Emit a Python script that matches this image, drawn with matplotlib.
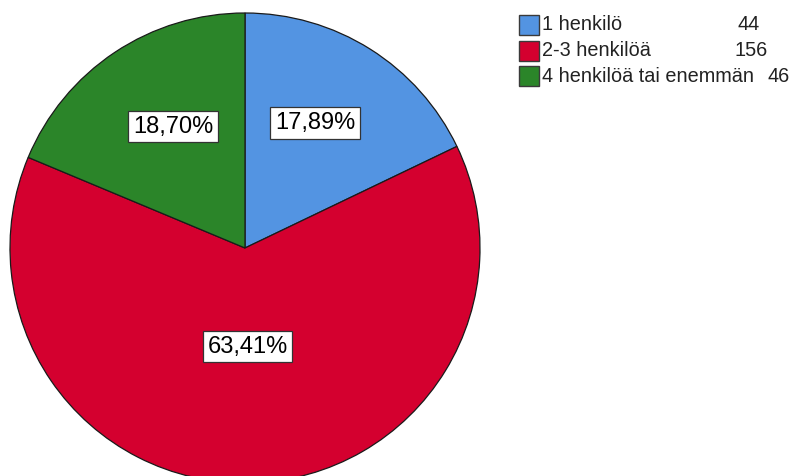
import matplotlib
matplotlib.use("Agg")
import matplotlib.pyplot as plt
import numpy as np
from matplotlib.patches import Rectangle

plt.rcParams['font.family'] = ['Liberation Sans', 'DejaVu Sans']

# household size counts
categories = ['1 henkilö', '2-3 henkilöä', '4 henkilöä tai enemmän']
counts = [44, 156, 46]
colors = ['#5394E2', '#D4002F', '#2B8529']

W, H = 790, 476
fig = plt.figure(figsize=(W / 100, H / 100), dpi=100)
ax = fig.add_axes([0, 0, 1, 1])

cx, cy, r = 245, H - 248, 235
wedges, _ = ax.pie(counts, colors=colors, startangle=90, counterclock=False,
                   center=(cx, cy), radius=r,
                   wedgeprops=dict(edgecolor='#1a1a1a', linewidth=0.9))

# percentage boxes inside the slices (radius fraction, angle nudge in degrees)
total = sum(counts)
label_r = [0.61, 0.42, 0.60]
label_nudge = [3, 0, -3]
start = 90.0
for n, lr, dn in zip(counts, label_r, label_nudge):
    span = 360.0 * n / total
    mid = np.deg2rad(start - span / 2 + dn)
    start -= span
    pct = f"{100 * n / total:.2f}%".replace('.', ',')
    ax.text(cx + lr * r * np.cos(mid), cy + lr * r * np.sin(mid), pct,
            ha='center', va='center', fontsize=17, color='black',
            bbox=dict(boxstyle='square,pad=0.2', fc='white', ec='#333333', lw=0.9))

# legend with counts
rows_y = [24.5, 50.5, 76]
num_x = [738, 735, 767]
for name, n, col, y, nx in zip(categories, counts, colors, rows_y, num_x):
    ax.add_patch(Rectangle((519, H - y - 10), 20, 20, fc=col, ec='#3a3a3a', lw=1.0))
    ax.text(542, H - y, name, ha='left', va='center', fontsize=14.3, color='#222222')
    ax.text(nx, H - y, str(n), ha='left', va='center', fontsize=14.3, color='#222222')

ax.set_xlim(0, W)
ax.set_ylim(0, H)
ax.set_aspect('equal')
ax.axis('off')

fig.savefig('out.png', dpi=100)
